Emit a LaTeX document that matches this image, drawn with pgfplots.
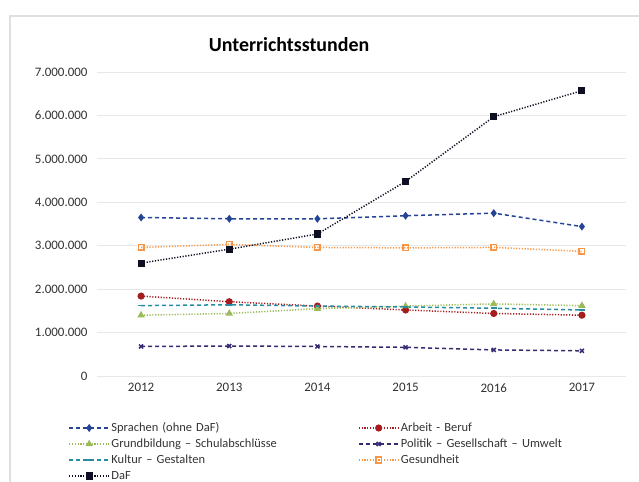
\documentclass[border=0pt]{standalone}
\usepackage{pgfplots}
\pgfplotsset{compat=1.18}
\usepackage{fontspec}
\setmainfont{Carlito}
\definecolor{cSpr}{RGB}{38,68,150}
\definecolor{cArb}{RGB}{165,28,30}
\definecolor{cGrd}{RGB}{155,187,89}
\definecolor{cPol}{RGB}{55,42,115}
\definecolor{cKul}{RGB}{40,140,165}
\definecolor{cGes}{RGB}{247,150,70}
\definecolor{cDaF}{RGB}{15,15,35}
\begin{document}
\begin{tikzpicture}[x=1bp,y=1bp]
\useasboundingbox (0,0) rectangle (639,482);
\draw[gray!25,line width=2bp] (10,0) -- (10,466) -- (639,466);
\node[font=\bfseries\fontsize{20}{22}\selectfont] at (289,437) {Unterrichtsstunden};
\begin{axis}[
  at={(97bp,106bp)}, anchor=south west,
  scale only axis, width=529bp, height=304bp,
  xmin=-0.5, xmax=5.5, ymin=0, ymax=7000000,
  xtick={0,1,2,3,4,5},
  xticklabels={2012,2013,2014,2015,2016,2017},
  ytick={0,1000000,2000000,3000000,4000000,5000000,6000000,7000000},
  yticklabels={0,1.000.000,2.000.000,3.000.000,4.000.000,5.000.000,6.000.000,7.000.000},
  scaled y ticks=false,
  axis line style={draw=none},
  major tick length=0pt,
  ymajorgrids, grid style={gray!18, line width=0.8bp},
  ticklabel style={font=\fontsize{13}{15}\selectfont, text=black!80},
  yticklabel style={xshift=-6bp},
  xticklabel style={yshift=-4bp},
  legend columns=2,
  legend cell align=left,
  legend style={at={(-0.06,-0.14)}, anchor=north west, draw=none, fill=none,
    font=\fontsize{12.5}{14}\selectfont, text=black!80,
    row sep=1.5bp,
    nodes={text height=9bp, text depth=2.5bp, inner sep=1.5bp},
    /tikz/every even column/.append style={text width=245bp, align=left}},
  legend image code/.code={\draw[mark repeat=2,mark phase=2,#1] plot coordinates {(0bp,0bp) (20bp,0bp) (40bp,0bp)};},
  every axis plot/.append style={line width=1.5bp, mark size=2.8bp, mark options={solid}},
]
\addplot[cSpr, dash pattern=on 4bp off 3bp, mark=diamond*] coordinates {(0,3650000) (1,3620000) (2,3620000) (3,3690000) (4,3750000) (5,3440000)};
\addlegendentry{Sprachen (ohne DaF)}
\addplot[cArb, dash pattern=on 1.2bp off 1.6bp, mark=*] coordinates {(0,1840000) (1,1710000) (2,1610000) (3,1520000) (4,1440000) (5,1400000)};
\addlegendentry{Arbeit - Beruf}
\addplot[cGrd, dash pattern=on 1.2bp off 1.6bp, mark=triangle*] coordinates {(0,1400000) (1,1440000) (2,1550000) (3,1610000) (4,1660000) (5,1620000)};
\addlegendentry{Grundbildung – Schulabschlüsse}
\addplot[cPol, dash pattern=on 4bp off 3bp, mark=x] coordinates {(0,680000) (1,690000) (2,680000) (3,660000) (4,600000) (5,580000)};
\addlegendentry{Politik – Gesellschaft – Umwelt}
\addplot[cKul, dash pattern=on 4bp off 3bp, mark=-] coordinates {(0,1620000) (1,1640000) (2,1610000) (3,1590000) (4,1560000) (5,1520000)};
\addlegendentry{Kultur – Gestalten}
\addplot[cGes, dash pattern=on 1.2bp off 1.6bp, mark=square] coordinates {(0,2960000) (1,3030000) (2,2960000) (3,2950000) (4,2960000) (5,2870000)};
\addlegendentry{Gesundheit}
\addplot[cDaF, dash pattern=on 1.2bp off 1.6bp, mark=square*] coordinates {(0,2600000) (1,2920000) (2,3270000) (3,4480000) (4,5970000) (5,6570000)};
\addlegendentry{DaF}
\end{axis}
\end{tikzpicture}
\end{document}
